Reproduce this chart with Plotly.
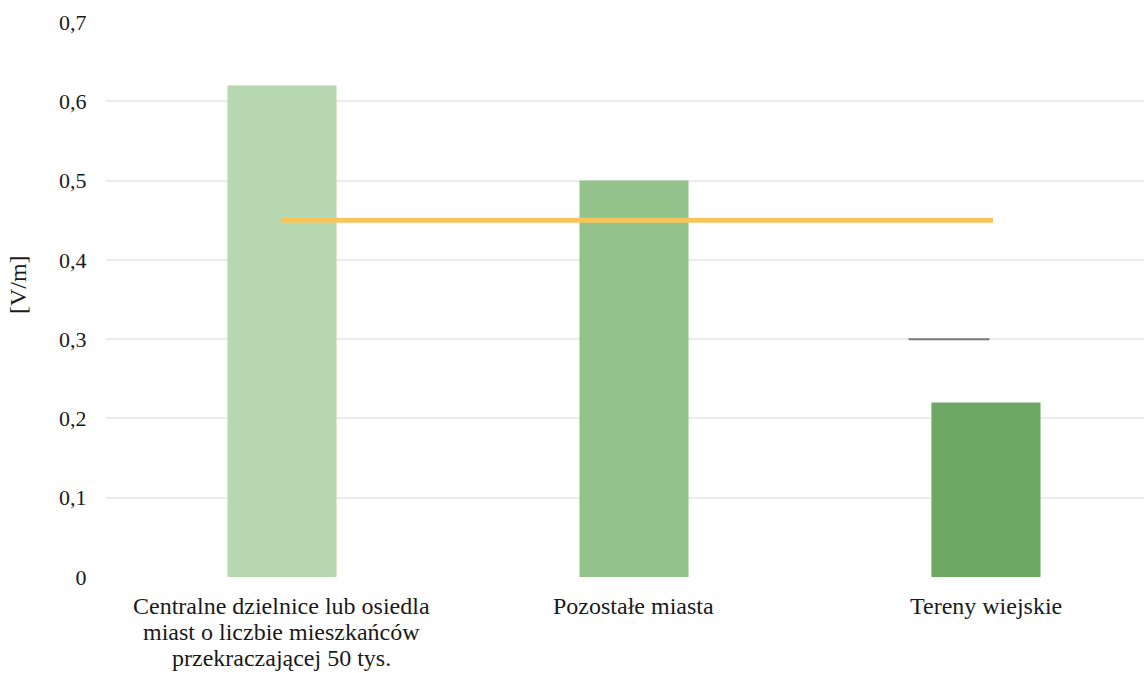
import plotly.graph_objects as go

# Measured mean field strength by area type
categories = [
    ["Centralne dzielnice lub osiedla", "miast o liczbie mieszkańców", "przekraczającej 50 tys."],
    ["Pozostałe miasta"],
    ["Tereny wiejskie"],
]
values = [0.62, 0.50, 0.22]
bar_colors = ["#B6D7AF", "#93C38B", "#6CA862"]

# Reference level spanning the first to the last category
ref_x = [0, 2.02]
ref_y = [0.45, 0.45]

# Short marker at 0.3 beside the last category
mark_x = [1.78, 2.01]
mark_y = [0.30, 0.30]

y_ticks = [0, 0.1, 0.2, 0.3, 0.4, 0.5, 0.6, 0.7]
y_title = "[V/m]"

font_family = "Times New Roman"
font_size = 24
tick_size = 22
line_step = 26

positions = list(range(len(categories)))

fig = go.Figure()
fig.add_trace(go.Bar(
    x=positions,
    y=values,
    marker=dict(color=bar_colors, line=dict(width=0)),
    width=0.31,
    showlegend=False,
    hoverinfo="skip",
))
fig.add_trace(go.Scatter(
    x=ref_x, y=ref_y, mode="lines",
    line=dict(color="#F8C55C", width=5),
    showlegend=False, hoverinfo="skip",
))
fig.add_trace(go.Scatter(
    x=mark_x, y=mark_y, mode="lines",
    line=dict(color="#7A7A7A", width=2),
    showlegend=False, hoverinfo="skip",
))

# Category labels, one annotation per line for tight line spacing
for pos, lines in zip(positions, categories):
    for i, line in enumerate(lines):
        fig.add_annotation(
            x=pos, xref="x", y=0, yref="paper",
            text=line, showarrow=False,
            xanchor="center", yanchor="top",
            yshift=-14 - i * line_step,
            font=dict(family=font_family, size=font_size, color="#1a1a1a"),
        )

# Vertical axis title
fig.add_annotation(
    x=0, xref="paper", xshift=-88,
    y=0.526, yref="paper",
    text=y_title, textangle=-90, showarrow=False,
    xanchor="center", yanchor="middle",
    font=dict(family=font_family, size=font_size, color="#1a1a1a"),
)

fig.update_layout(
    width=1144, height=673,
    margin=dict(l=106, r=0, t=22, b=96),
    paper_bgcolor="white", plot_bgcolor="white",
    separators=",.",
    font=dict(family=font_family, size=font_size, color="#1a1a1a"),
    xaxis=dict(
        range=[-0.5, 2.449],
        showticklabels=False,
        showgrid=False, zeroline=False, showline=False,
    ),
    yaxis=dict(
        range=[0, 0.7],
        tickvals=y_ticks,
        showgrid=True, gridcolor="#EBEBEB", gridwidth=1.5,
        zeroline=False, showline=False,
        ticks="outside", ticklen=14, tickcolor="rgba(0,0,0,0)",
        tickfont=dict(family=font_family, size=tick_size),
    ),
)

fig.write_html("out.html")
